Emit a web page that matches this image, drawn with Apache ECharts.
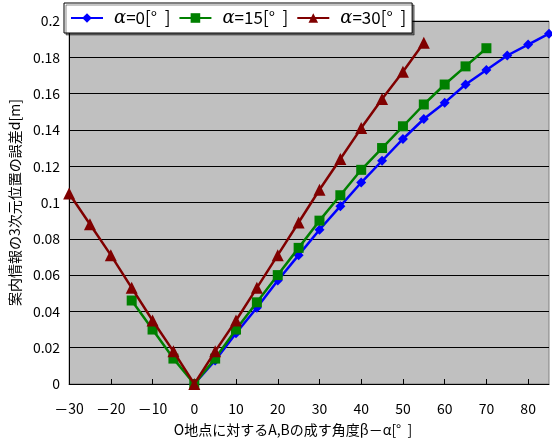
<!DOCTYPE html>
<html>
<head>
<meta charset="utf-8">
<script src="https://cdn.jsdelivr.net/npm/echarts@6/dist/echarts.min.js"></script>
<style>html,body{margin:0;padding:0;background:#fff;}#c{width:552px;height:444px;}</style>
</head>
<body>
<div id="c"></div>
<script>
const seriesNames = ['α=0[°  ]', 'α=15[°  ]', 'α=30[°  ]'];
const angles0 = [0, 5, 10, 15, 20, 25, 30, 35, 40, 45, 50, 55, 60, 65, 70, 75, 80, 85];
const err0 = [0, 0.013, 0.028, 0.042, 0.057, 0.071, 0.085, 0.098, 0.111, 0.123, 0.135, 0.146, 0.155, 0.165, 0.173, 0.181, 0.187, 0.193];
const angles15 = [-15, -10, -5, 0, 5, 10, 15, 20, 25, 30, 35, 40, 45, 50, 55, 60, 65, 70];
const err15 = [0.046, 0.030, 0.014, 0, 0.014, 0.030, 0.045, 0.060, 0.075, 0.090, 0.104, 0.118, 0.130, 0.142, 0.154, 0.165, 0.175, 0.185];
const angles30 = [-30, -25, -20, -15, -10, -5, 0, 5, 10, 15, 20, 25, 30, 35, 40, 45, 50, 55];
const err30 = [0.105, 0.088, 0.071, 0.053, 0.035, 0.018, 0, 0.018, 0.035, 0.053, 0.071, 0.089, 0.107, 0.124, 0.141, 0.157, 0.172, 0.188];
const xTitle = 'O地点に対するA,Bの成す角度β－α[°  ]';
const yTitle = '案内情報の3次元位置の誤差d[m]';

const font = '"Noto Sans CJK JP", "DejaVu Sans", sans-serif';
const pairs = (xs, ys) => xs.map((x, i) => [x, ys[i]]);
const colors = ['#0000FF', '#008000', '#800000'];
const symbols = ['diamond', 'rect', 'triangle'];
const sizes = [10, 10, 12];
const dataSets = [pairs(angles0, err0), pairs(angles15, err15), pairs(angles30, err30)];

const chart = echarts.init(document.getElementById('c'));
chart.setOption({
  animation: false,
  textStyle: { fontFamily: font },
  grid: { left: 65, right: 3, top: 21, bottom: 60, show: true, backgroundColor: '#C0C0C0', borderColor: '#808080', borderWidth: 1 },
  legend: {
    left: 64, top: 3,
    padding: [6, 6, 6, 6],
    itemGap: 8,
    itemWidth: 32, itemHeight: 12,
    backgroundColor: '#fff', borderColor: '#000', borderWidth: 1,
    shadowColor: 'rgba(0,0,0,0.45)', shadowOffsetX: 2, shadowOffsetY: 2, shadowBlur: 0,
    data: seriesNames,
    formatter: n => '{a|α}' + n.slice(1),
    textStyle: {
      fontSize: 17, color: '#000', fontFamily: font, padding: [0, 0, 0, 6],
      rich: { a: { fontSize: 18, fontStyle: 'italic', fontFamily: '"DejaVu Serif", serif', color: '#000' } }
    }
  },
  xAxis: {
    type: 'value', min: -30, max: 85, interval: 10,
    name: xTitle, nameLocation: 'middle', nameGap: 39,
    nameTextStyle: { fontSize: 14, color: '#000', fontFamily: font, padding: [0, 32, 0, 0] },
    axisLine: { show: true, onZero: false, lineStyle: { color: '#000', width: 1 } },
    axisTick: { show: true, inside: true, length: 5, lineStyle: { color: '#000' } },
    axisLabel: { show: true, color: '#000', fontSize: 14, margin: 18, showMaxLabel: false,
      formatter: v => v < 0 ? '－' + Math.abs(v) : String(v) },
    splitLine: { show: false }
  },
  yAxis: {
    type: 'value', min: 0, max: 0.2, interval: 0.02,
    name: yTitle, nameLocation: 'middle', nameGap: 42,
    nameTextStyle: { fontSize: 14, color: '#000', fontFamily: font },
    axisLine: { show: true, onZero: false, lineStyle: { color: '#000', width: 1 } },
    axisTick: { show: true, inside: true, length: 4, lineStyle: { color: '#000' } },
    axisLabel: { color: '#000', fontSize: 14, margin: 9, formatter: v => String(parseFloat(v.toFixed(2))) },
    splitLine: { show: true, lineStyle: { color: '#000', width: 1 } }
  },
  series: seriesNames.map((n, i) => ({
    name: n, type: 'line', data: dataSets[i],
    symbol: symbols[i], symbolSize: sizes[i], showAllSymbol: true,
    lineStyle: { color: colors[i], width: 2.5 },
    itemStyle: { color: colors[i] },
    z: 2 + i
  }))
});
</script>
</body>
</html>
